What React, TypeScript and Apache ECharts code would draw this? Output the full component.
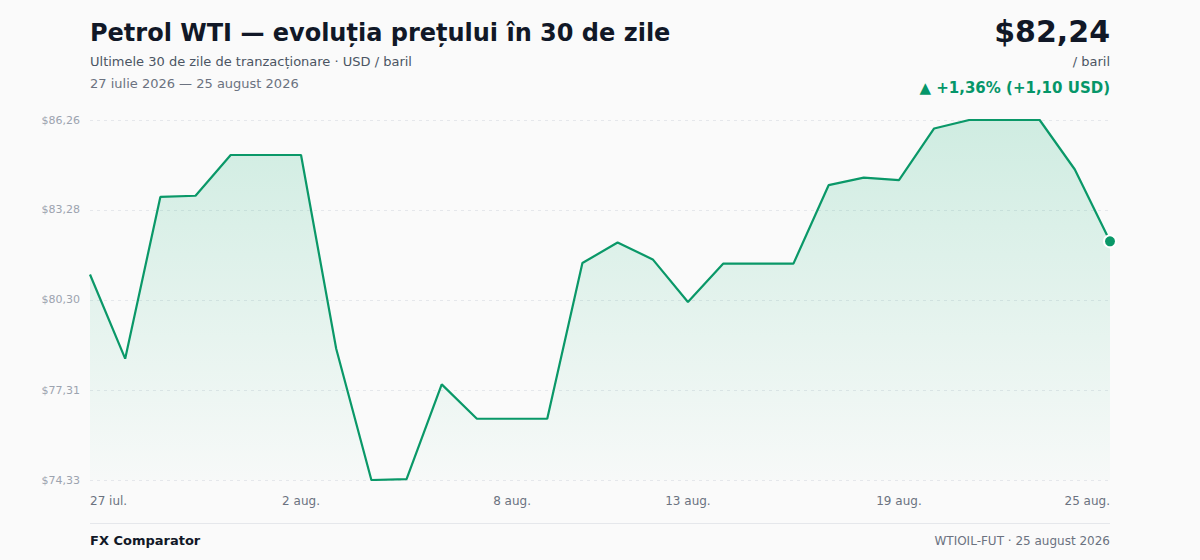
import React, { useEffect, useRef } from "react";
import * as echarts from "echarts";

const dates = [
  "27 iul.", "28 iul.", "29 iul.", "30 iul.", "31 iul.",
  "1 aug.", "2 aug.", "3 aug.", "4 aug.", "5 aug.", "6 aug.", "7 aug.", "8 aug.", "9 aug.", "10 aug.",
  "11 aug.", "12 aug.", "13 aug.", "14 aug.", "15 aug.", "16 aug.", "17 aug.", "18 aug.", "19 aug.",
  "20 aug.", "21 aug.", "22 aug.", "23 aug.", "24 aug.", "25 aug.",
];

const prices = [
  81.14, 78.35, 83.71, 83.75, 85.1, 85.1, 85.1, 78.68, 74.33, 74.36,
  77.5, 76.36, 76.36, 76.36, 81.52, 82.2, 81.64, 80.23, 81.5, 81.5,
  81.5, 84.1, 84.35, 84.27, 85.98, 86.26, 86.26, 86.26, 84.62, 82.24,
];

const yTicks = [74.33, 77.31, 80.3, 83.28, 86.26];
const shownDateLabels = ["27 iul.", "2 aug.", "8 aug.", "13 aug.", "19 aug.", "25 aug."];

const FONT = "'DejaVu Sans', sans-serif";
const GREEN = "#0a9868";

export default function App() {
  const ref = useRef<HTMLDivElement>(null);

  useEffect(() => {
    document.body.style.margin = "0";
    document.body.style.background = "#fafafa";
    const chart = echarts.init(ref.current!, null, { renderer: "svg" });
    const fmt = (v: number) => "$" + v.toFixed(2).replace(".", ",");
    const last = prices.length - 1;

    chart.setOption({
      animation: false,
      backgroundColor: "#fafafa",
      textStyle: { fontFamily: FONT },
      grid: { left: 90, right: 90, top: 120, bottom: 80, containLabel: false },
      xAxis: {
        type: "category",
        data: dates,
        boundaryGap: false,
        axisLine: { show: false },
        axisTick: { show: false },
        splitLine: { show: false },
        axisLabel: {
          color: "#6b7280",
          fontSize: 12,
          fontFamily: FONT,
          margin: 15,
          interval: (_i: number, v: string) => shownDateLabels.includes(v),
          alignMinLabel: "left",
          alignMaxLabel: "right",
        },
      },
      yAxis: {
        type: "value",
        min: yTicks[0],
        max: yTicks[yTicks.length - 1],
        axisLine: { show: false },
        axisTick: { show: false, customValues: yTicks },
        axisLabel: {
          customValues: yTicks,
          color: "#9ca3af",
          fontSize: 11,
          fontFamily: FONT,
          margin: 10,
          formatter: (v: number) => fmt(v),
        },
        splitLine: {
          show: true,
          lineStyle: { color: "#e5e7eb", type: [3, 4], width: 1 },
        },
      },
      series: [
        {
          type: "line",
          data: prices.map((p, i) =>
            i === last
              ? {
                  value: p,
                  symbol: "circle",
                  symbolSize: 12,
                  itemStyle: { color: GREEN, borderColor: "#ffffff", borderWidth: 2 },
                }
              : p
          ),
          showSymbol: true,
          symbol: "none",
          lineStyle: { color: GREEN, width: 2.2 },
          itemStyle: { color: GREEN },
          areaStyle: {
            color: new echarts.graphic.LinearGradient(0, 0, 0, 1, [
              { offset: 0, color: "rgba(16,175,115,0.26)" },
              { offset: 1, color: "rgba(16,175,115,0.02)" },
            ]),
          },
        },
      ],
      graphic: [
        {
          type: "text",
          left: 90,
          top: 21,
          style: {
            text: "Petrol WTI — evoluția prețului în 30 de zile",
            font: `bold 24px ${FONT}`,
            fill: "#111827",
          },
        },
        {
          type: "text",
          left: 90,
          top: 55,
          style: {
            text: "Ultimele 30 de zile de tranzacționare · USD / baril",
            font: `13px ${FONT}`,
            fill: "#4b5563",
          },
        },
        {
          type: "text",
          left: 90,
          top: 77,
          style: {
            text: "27 iulie 2026 — 25 august 2026",
            font: `13px ${FONT}`,
            fill: "#6b7280",
          },
        },
        {
          type: "text",
          right: 90,
          top: 16,
          style: {
            text: "$82,24",
            font: `bold 30px ${FONT}`,
            fill: "#111827",
            align: "right",
          },
        },
        {
          type: "text",
          right: 90,
          top: 55,
          style: {
            text: "/ baril",
            font: `13px ${FONT}`,
            fill: "#4b5563",
            align: "right",
          },
        },
        {
          type: "text",
          right: 90,
          top: 80,
          style: {
            text: "▲ +1,36% (+1,10 USD)",
            font: `bold 15px ${FONT}`,
            fill: "#059669",
            align: "right",
          },
        },
        {
          type: "rect",
          shape: { x: 90, y: 523, width: 1020, height: 1 },
          style: { fill: "#e5e7eb" },
        },
        {
          type: "text",
          left: 90,
          top: 534,
          style: {
            text: "FX Comparator",
            font: `bold 13px ${FONT}`,
            fill: "#111827",
          },
        },
        {
          type: "text",
          right: 90,
          top: 535,
          style: {
            text: "WTIOIL-FUT · 25 august 2026",
            font: `12px ${FONT}`,
            fill: "#6b7280",
            align: "right",
          },
        },
      ],
    });

    return () => chart.dispose();
  }, []);

  return <div ref={ref} style={{ width: 1200, height: 560 }} />;
}
